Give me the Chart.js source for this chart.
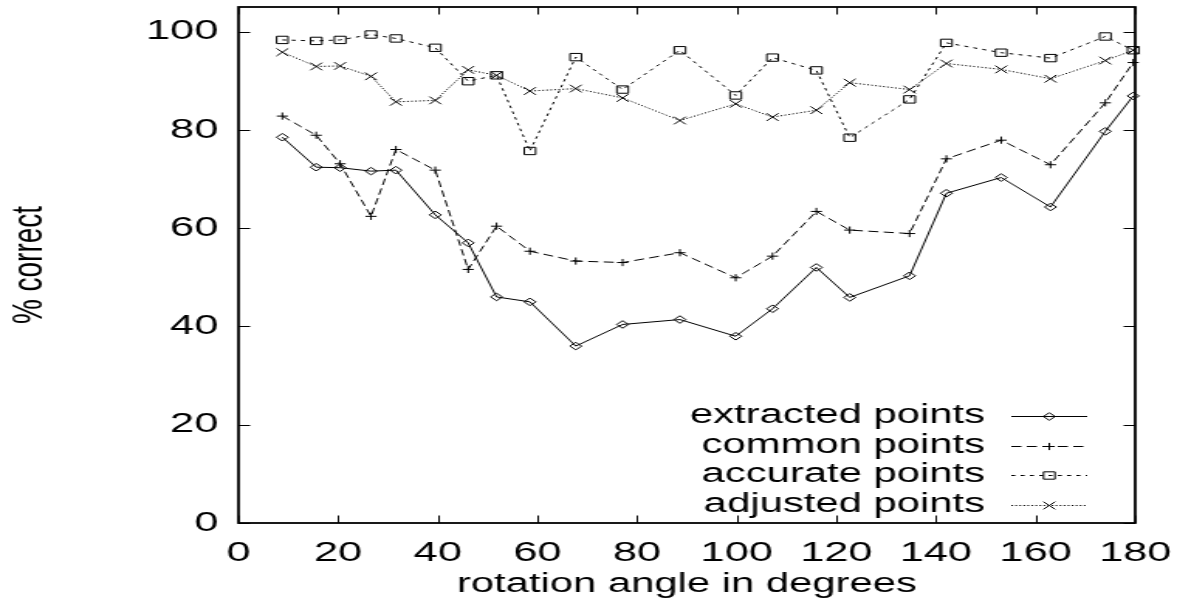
<!DOCTYPE html>
<html>
<head>
<meta charset="utf-8">
<title>% correct vs rotation angle</title>
<script src="https://cdn.jsdelivr.net/npm/chart.js@4.4.1/dist/chart.umd.min.js"></script>
<style>
  html, body { margin: 0; padding: 0; background: #fff; overflow: hidden; }
  /* the original plot is a gnuplot picture stretched sideways, so draw narrow and stretch */
  #wrap { width: 760px; height: 605px; transform: scaleX(1.5487); transform-origin: 0 0; }
</style>
</head>
<body>
<div id="wrap"><canvas id="chart" width="760" height="605" style="width:760px;height:605px"></canvas></div>
<script>
// rotation angles (degrees) shared by every series
const angles = [8.8, 15.6, 20.4, 26.6, 31.6, 39.5, 46.1, 51.8, 58.5, 67.7, 77.1,
                88.6, 99.8, 107.2, 116.0, 122.7, 134.7, 142.1, 153.1, 163.0, 174.0, 179.6];

const extracted = [78.5, 72.4, 72.3, 71.6, 71.8, 62.7, 57.0, 46.0, 45.0, 36.0, 40.4,
                   41.4, 38.0, 43.6, 52.0, 45.9, 50.3, 67.1, 70.3, 64.3, 79.7, 86.9];
const common    = [82.8, 78.9, 73.1, 62.4, 76.0, 71.8, 51.6, 60.4, 55.3, 53.3, 53.0,
                   55.0, 49.9, 54.3, 63.4, 59.6, 58.9, 74.1, 77.9, 72.9, 85.5, 93.7];
const accurate  = [98.3, 98.1, 98.3, 99.4, 98.6, 96.7, 89.9, 91.1, 75.7, 94.8, 88.2,
                   96.2, 87.0, 94.7, 92.1, 78.4, 86.2, 97.7, 95.7, 94.6, 99.0, 96.2];
const adjusted  = [95.8, 92.9, 93.0, 90.9, 85.7, 86.0, 92.2, 91.1, 87.9, 88.4, 86.5,
                   81.9, 85.3, 82.6, 84.0, 89.6, 88.2, 93.5, 92.3, 90.4, 94.1, 96.2];

const xTicks = [0, 20, 40, 60, 80, 100, 120, 140, 160, 180];
const yTicks = [0, 20, 40, 60, 80, 100];

const FONT = '"Liberation Sans", Arial, Helvetica, sans-serif';
Chart.defaults.font.family = FONT;
Chart.defaults.color = '#000';

function series(label, values, dash, style, radius) {
    return {
        label: label,
        data: angles.map((a, i) => ({ x: a, y: values[i] })),
        borderColor: '#000',
        borderWidth: 1,
        borderDash: dash,
        pointStyle: style,
        pointRadius: radius,
        pointHoverRadius: radius,
        pointBorderWidth: 1,
        pointBorderColor: '#000',
        pointBackgroundColor: 'rgba(0,0,0,0)',
        tension: 0,
        clip: false
    };
}

// no automatic padding for edge labels: the plot box is placed by hand
function noEdgePadding(s) {
    s.paddingTop = 0;
    s.paddingBottom = 0;
    s.paddingLeft = 0;
    s.paddingRight = 0;
}

// border box with inward ticks on all four sides, then the key in the lower right
const framePlugin = {
    id: 'plotFrame',
    afterDraw(chart) {
        const { ctx, chartArea: a, scales: { x, y } } = chart;
        ctx.save();
        ctx.strokeStyle = '#000';
        ctx.setLineDash([]);
        ctx.lineWidth = 1;
        ctx.beginPath();
        x.ticks.forEach(t => {
            const px = Math.round(x.getPixelForValue(t.value)) + 0.5;
            ctx.moveTo(px, a.bottom); ctx.lineTo(px, a.bottom - 7.5);
            ctx.moveTo(px, a.top); ctx.lineTo(px, a.top + 7.5);
        });
        y.ticks.forEach(t => {
            const py = Math.round(y.getPixelForValue(t.value)) + 0.5;
            ctx.moveTo(a.left, py); ctx.lineTo(a.left + 7.5, py);
            ctx.moveTo(a.right, py); ctx.lineTo(a.right - 7.5, py);
        });
        ctx.stroke();
        ctx.lineWidth = 1.8;
        ctx.strokeRect(a.left, a.top, a.right - a.left, a.bottom - a.top);

        chart.data.datasets.forEach((ds, i) => {
            const rowY = Math.round(a.bottom - 107 + i * 29.5) + 0.5;
            ctx.font = '27px ' + FONT;
            ctx.fillStyle = '#000';
            ctx.textAlign = 'right';
            ctx.textBaseline = 'alphabetic';
            ctx.fillText(ds.label, a.right - 97, rowY + 6);

            ctx.lineWidth = 1;
            ctx.setLineDash(ds.borderDash || []);
            ctx.beginPath();
            ctx.moveTo(a.right - 80, rowY);
            ctx.lineTo(a.right - 31, rowY);
            ctx.stroke();
            ctx.setLineDash([]);

            ctx.fillStyle = 'rgba(0,0,0,0)';
            Chart.helpers.drawPoint(ctx, {
                pointStyle: ds.pointStyle,
                radius: ds.pointRadius,
                borderWidth: 1,
                rotation: 0
            }, a.right - 55.5, rowY);
        });
        ctx.restore();
    }
};

new Chart(document.getElementById('chart').getContext('2d'), {
    type: 'line',
    data: {
        datasets: [
            series('extracted points', extracted, [], 'rectRot', 3.8),
            series('common points', common, [6.5, 3.5], 'cross', 3.6),
            series('accurate points', accurate, [2.6, 3.4], 'rect', 5.2),
            series('adjusted points', adjusted, [1.1, 1.5], 'crossRot', 5.4)
        ]
    },
    plugins: [framePlugin],
    options: {
        responsive: false,
        animation: false,
        events: [],
        layout: { padding: { left: 0, right: 27, top: 7, bottom: 0 }, autoPadding: false },
        scales: {
            x: {
                type: 'linear',
                min: 0,
                max: 180,
                afterBuildTicks: s => { s.ticks = xTicks.map(v => ({ value: v })); },
                afterFit: s => { s.height = 82; noEdgePadding(s); },
                grid: { display: false, drawTicks: false },
                border: { display: false },
                ticks: { font: { size: 28 }, color: '#000', padding: 13, maxRotation: 0, autoSkip: false },
                title: { display: true, text: 'rotation angle in degrees', font: { size: 27 }, color: '#000', padding: 4 }
            },
            y: {
                min: 0,
                max: 105,
                afterBuildTicks: s => { s.ticks = yTicks.map(v => ({ value: v })); },
                afterFit: s => { s.width = 154; noEdgePadding(s); },
                grid: { display: false, drawTicks: false },
                border: { display: false },
                ticks: { font: { size: 28 }, color: '#000', padding: 13 },
                title: { display: true, text: '% correct', font: { size: 28 }, color: '#000', padding: 2 }
            }
        },
        plugins: {
            legend: { display: false },
            tooltip: { enabled: false }
        }
    }
});
</script>
</body>
</html>
